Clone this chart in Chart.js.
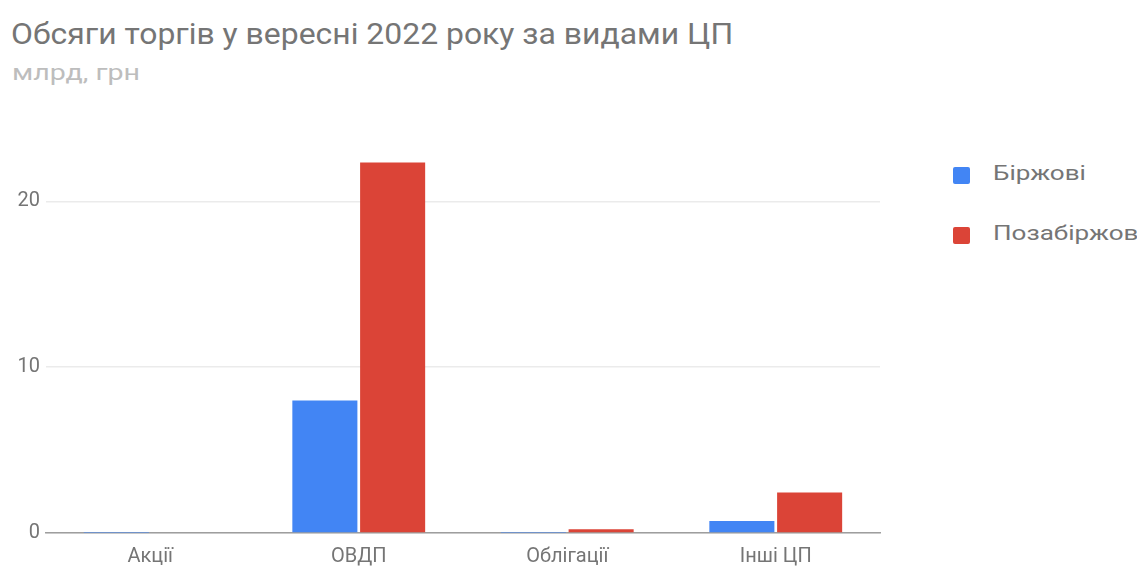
<!DOCTYPE html>
<html>
<head>
<meta charset="utf-8">
<script src="https://cdn.jsdelivr.net/npm/chart.js@4"></script>
<style>
  html, body { margin: 0; padding: 0; background: #fff; overflow: hidden; }
  body { width: 1137px; height: 572px; position: relative; font-family: Roboto, Arial, sans-serif; }
  #wrap { position: absolute; left: 0; top: 0; width: 1137px; height: 572px; }
  .title { position: absolute; left: 11px; top: 17px; font-size: 29px; color: #757575; white-space: nowrap; transform: scaleX(1.1); transform-origin: 0 0; }
  .subtitle { position: absolute; left: 12px; top: 60px; font-size: 22px; color: #bdbdbd; white-space: nowrap; transform: scaleX(1.3); transform-origin: 0 0; }
  .legend { position: absolute; left: 953px; top: 163px; }
  .legend div { position: relative; height: 60px; font-size: 21px; color: #757575; white-space: nowrap; }
  .legend span.sw { position: absolute; left: 0; top: 4px; width: 17px; height: 17px; border-radius: 2px; }
  .legend span.tx { position: absolute; left: 40px; top: -2px; transform: scaleX(1.24); transform-origin: 0 0; }
</style>
</head>
<body>
<div class="title">Обсяги торгів у вересні 2022 року за видами ЦП</div>
<div class="subtitle">млрд, грн</div>
<div class="legend" id="legend"></div>
<div id="wrap"><canvas id="c"></canvas></div>
<script>
// --- data ---
const CATEGORIES = ['Акції', 'ОВДП', 'Облігації', 'Інші ЦП'];
const EXCHANGE = [0.01, 8.0, 0.02, 0.72];     // Біржові
const OTC = [0.05, 22.35, 0.22, 2.45];         // Позабіржові
const SERIES_NAMES = ['Біржові', 'Позабіржові'];
const Y_TICKS = [0, 10, 20];

const COLORS = ['#4285f4', '#db4437'];

// --- legend ---
const legend = document.getElementById('legend');
SERIES_NAMES.forEach((name, i) => {
  const row = document.createElement('div');
  row.innerHTML = '<span class="sw" style="background:' + COLORS[i] + '"></span><span class="tx">' + name + '</span>';
  legend.appendChild(row);
});

// --- chart ---
new Chart(document.getElementById('c'), {
  type: 'bar',
  data: {
    labels: CATEGORIES,
    datasets: [EXCHANGE, OTC].map((vals, i) => ({
      label: SERIES_NAMES[i],
      data: vals,
      backgroundColor: COLORS[i],
      borderWidth: 0,
      categoryPercentage: 0.65,
      barPercentage: 0.96
    }))
  },
  options: {
    responsive: true,
    maintainAspectRatio: false,
    animation: false,
    layout: { padding: { top: 160, right: 257, bottom: 0, left: 0 } },
    plugins: { legend: { display: false }, tooltip: { enabled: false } },
    scales: {
      x: {
        grid: { display: false },
        border: { display: true, color: '#9e9e9e', width: 1.5 },
        ticks: { color: '#757575', font: { family: 'Roboto', size: 20 }, padding: 4 },
        afterFit: s => { s.height = 39; }
      },
      y: {
        min: 0, max: 22.5,
        afterBuildTicks: s => { s.ticks = Y_TICKS.map(v => ({ value: v })); },
        grid: { color: '#ebebeb', lineWidth: 1.5, drawTicks: false },
        border: { display: false },
        ticks: { color: '#757575', font: { family: 'Roboto', size: 20 }, padding: 6 },
        afterFit: s => { s.width = 46; }
      }
    }
  }
});
</script>
</body>
</html>
